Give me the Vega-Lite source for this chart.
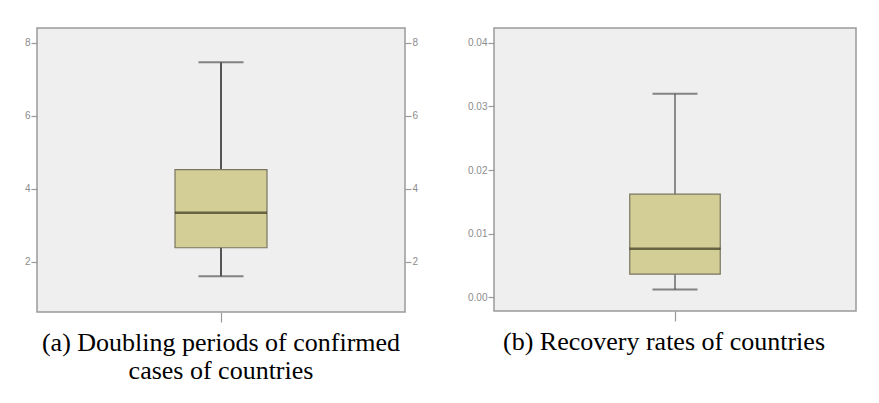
{
  "$schema": "https://vega.github.io/schema/vega-lite/v6.json",
  "background": "white",
  "padding": {"left": 16, "top": 27, "right": 0, "bottom": 0},
  "spacing": 27,
  "config": {
    "view": {"fill": "#efefef", "stroke": "#9a9a9a", "strokeWidth": 1.5},
    "axis": {"labelFont": "Liberation Sans", "labelFontSize": 10, "labelColor": "#8c8c8c", "tickColor": "#9a9a9a", "tickWidth": 1.2, "tickSize": 6, "labelPadding": 1, "domain": false, "grid": false},
    "title": {"font": "Liberation Serif", "fontSize": 26, "fontWeight": "normal", "color": "#000000", "lineHeight": 28}
  },
  "datasets": {
    "a": [{"group": "a", "lower": 1.61, "q1": 2.39, "median": 3.35, "q3": 4.53, "upper": 7.47}],
    "b": [{"group": "b", "lower": 0.0012, "q1": 0.0036, "median": 0.0076, "q3": 0.0162, "upper": 0.032}]
  },
  "hconcat": [
    {
      "width": 368,
      "height": 284,
      "data": {"name": "a"},
      "title": {"text": ["(a) Doubling periods of confirmed", "cases of countries"], "orient": "bottom", "offset": 7, "anchor": "middle"},
      "encoding": {
        "x": {"field": "group", "type": "nominal", "title": null, "scale": {"paddingInner": 0, "paddingOuter": 0}, "axis": {"labels": false, "tickSize": 10, "minExtent": 10, "maxExtent": 10, "orient": "bottom"}}
      },
      "layer": [
        {"mark": {"type": "rule", "color": "#555555", "strokeWidth": 2},
         "encoding": {"y": {"field": "lower", "type": "quantitative", "title": null, "scale": {"domain": [0.63, 8.41], "nice": false, "zero": false}, "axis": {"values": [2, 4, 6, 8], "orient": "left", "minExtent": 20, "maxExtent": 20}}, "y2": {"field": "upper"}}},
        {"mark": {"type": "bar", "fill": "#d3cd96", "stroke": "#7a7660", "strokeWidth": 1.2, "width": {"band": 0.25}},
         "encoding": {"y": {"field": "q1", "type": "quantitative", "title": null, "axis": {"values": [2, 4, 6, 8], "orient": "right", "minExtent": 20, "maxExtent": 20}}, "y2": {"field": "q3"}}},
        {"mark": {"type": "tick", "color": "#555555", "thickness": 2, "size": 45},
         "encoding": {"y": {"field": "lower", "type": "quantitative", "axis": null}}},
        {"mark": {"type": "tick", "color": "#555555", "thickness": 2, "size": 45},
         "encoding": {"y": {"field": "upper", "type": "quantitative", "axis": null}}},
        {"mark": {"type": "tick", "color": "#3b3820", "thickness": 2.5, "size": 92},
         "encoding": {"y": {"field": "median", "type": "quantitative", "axis": null}}}
      ],
      "resolve": {"axis": {"y": "independent"}}
    },
    {
      "width": 362,
      "height": 283,
      "data": {"name": "b"},
      "title": {"text": "(b) Recovery rates of countries", "orient": "bottom", "offset": 7, "anchor": "middle", "dx": -11},
      "encoding": {
        "x": {"field": "group", "type": "nominal", "title": null, "scale": {"paddingInner": 0, "paddingOuter": 0}, "axis": {"labels": false, "tickSize": 10, "minExtent": 10, "maxExtent": 10, "orient": "bottom"}}
      },
      "layer": [
        {"mark": {"type": "rule", "color": "#555555", "strokeWidth": 1.3},
         "encoding": {"y": {"field": "lower", "type": "quantitative", "title": null, "scale": {"domain": [-0.0022, 0.04236], "nice": false, "zero": false}, "axis": {"values": [0, 0.01, 0.02, 0.03, 0.04], "format": ".2f", "orient": "left", "minExtent": 40, "maxExtent": 40}}, "y2": {"field": "upper"}}},
        {"mark": {"type": "bar", "fill": "#d3cd96", "stroke": "#7a7660", "strokeWidth": 1.2, "width": {"band": 0.25}},
         "encoding": {"y": {"field": "q1", "type": "quantitative"}, "y2": {"field": "q3"}}},
        {"mark": {"type": "tick", "color": "#555555", "thickness": 2, "size": 45},
         "encoding": {"y": {"field": "lower", "type": "quantitative"}}},
        {"mark": {"type": "tick", "color": "#555555", "thickness": 2, "size": 45},
         "encoding": {"y": {"field": "upper", "type": "quantitative"}}},
        {"mark": {"type": "tick", "color": "#3b3820", "thickness": 2.5, "size": 91},
         "encoding": {"y": {"field": "median", "type": "quantitative"}}}
      ]
    }
  ]
}
